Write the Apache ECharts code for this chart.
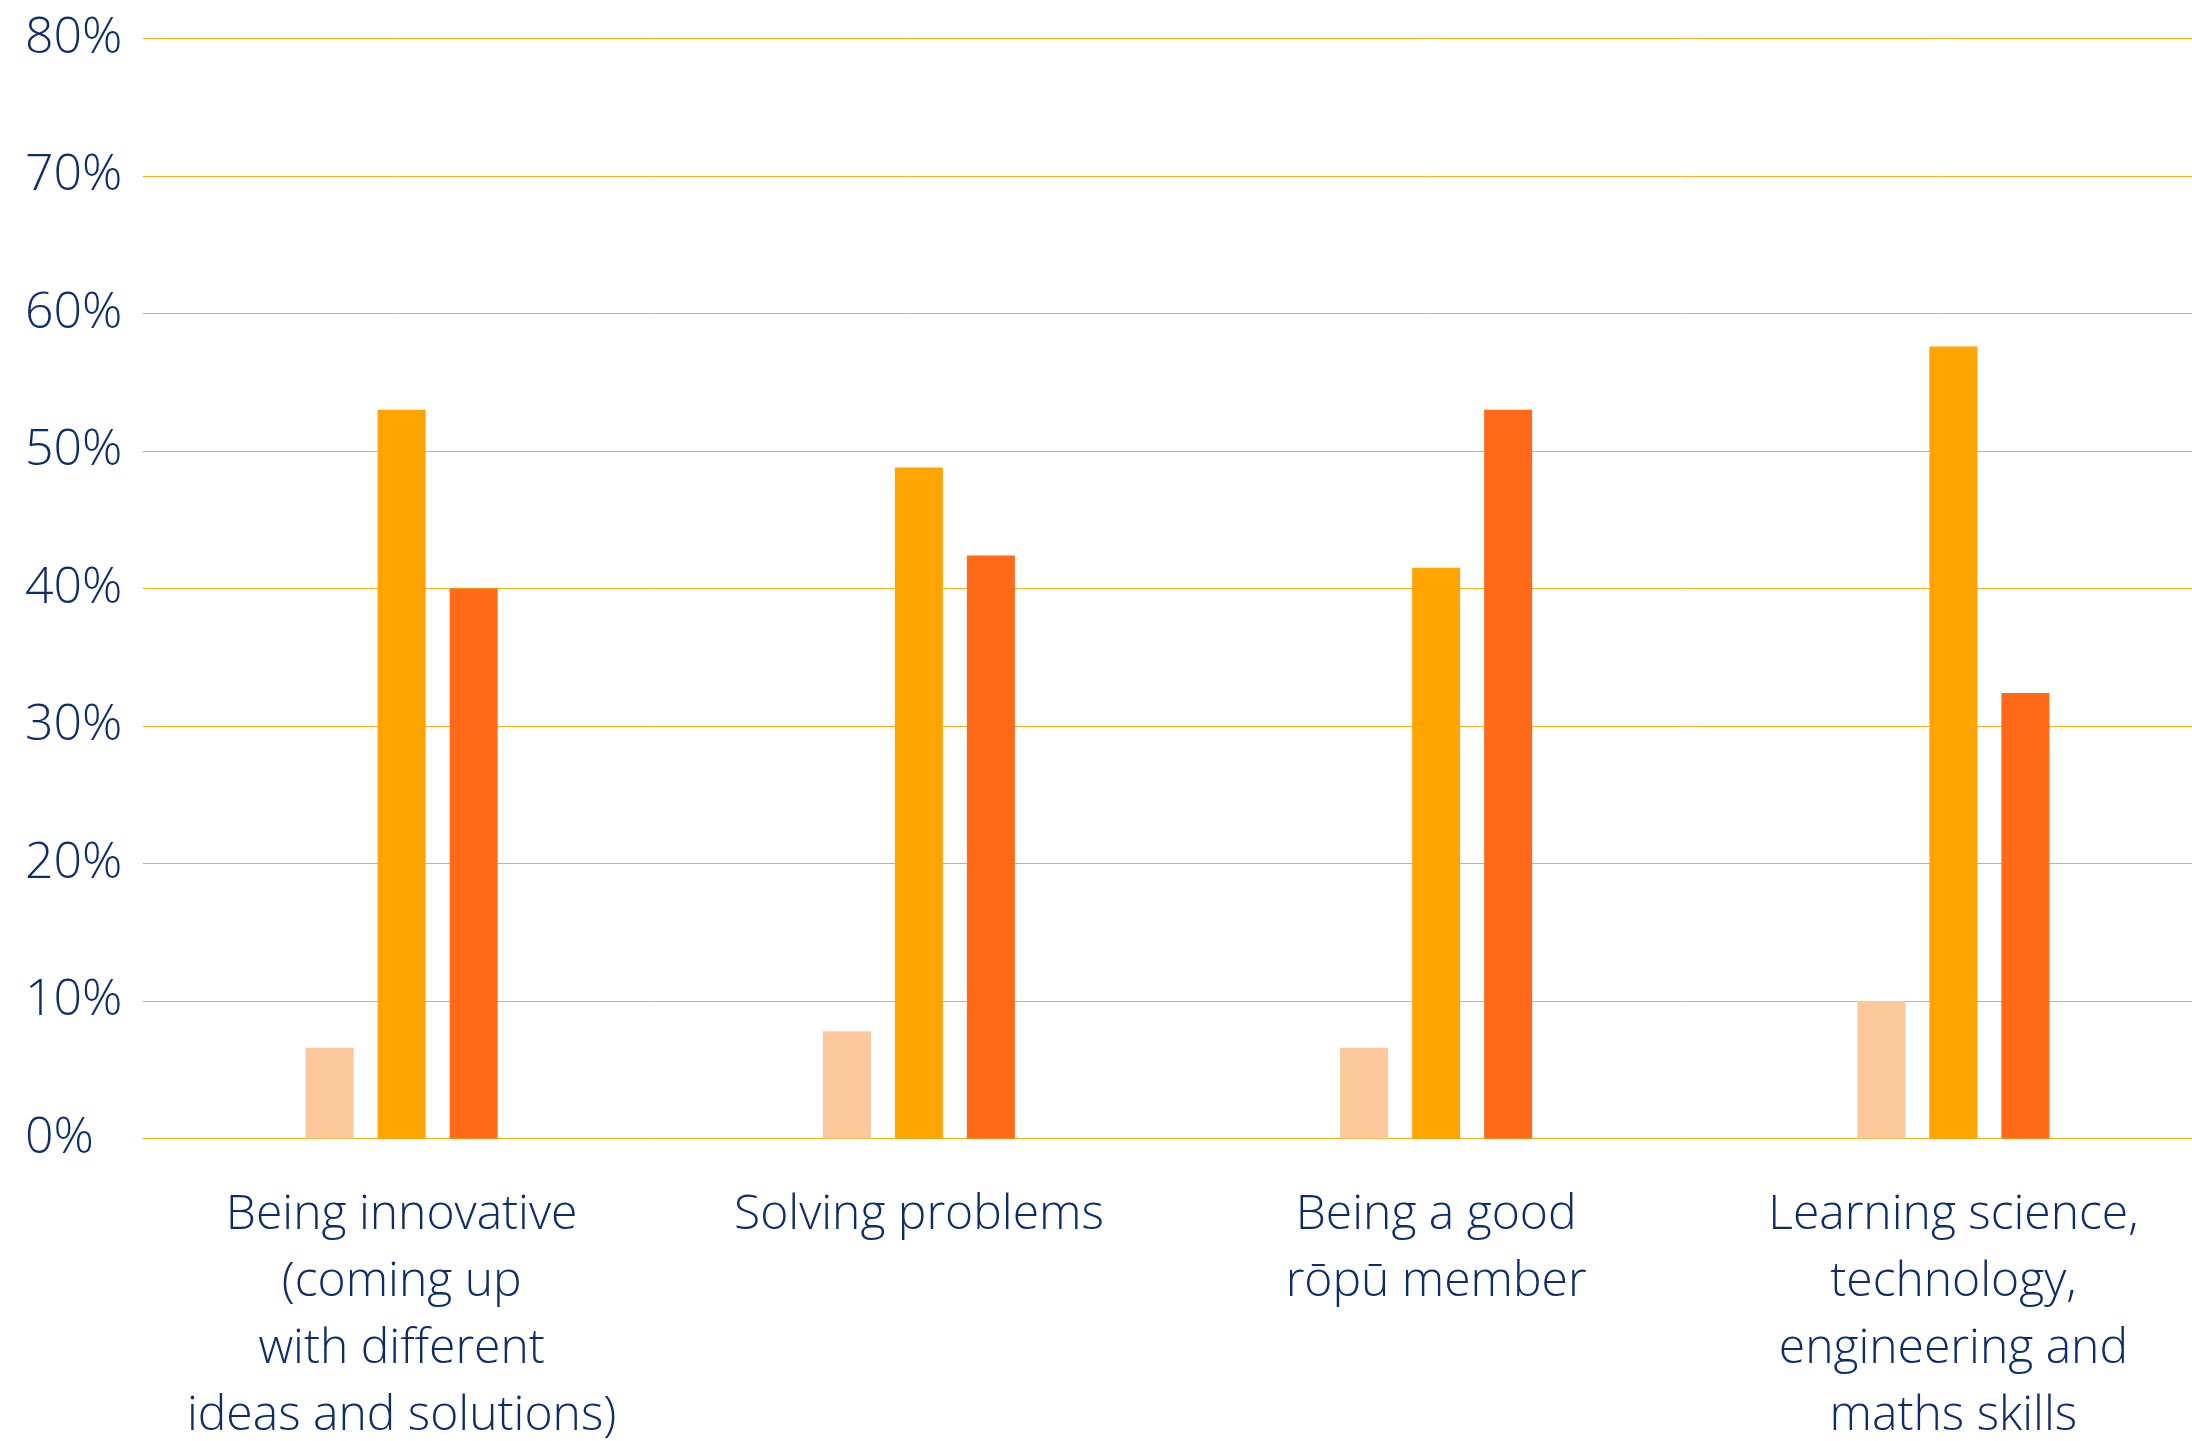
<!DOCTYPE html>
<html>
<head>
<meta charset="utf-8">
<style>
  html, body { margin: 0; padding: 0; background: #ffffff; }
  #chart { width: 2192px; height: 1441px; }
</style>
<script src="https://cdn.jsdelivr.net/npm/echarts@6/dist/echarts.min.js"></script>
</head>
<body>
<div id="chart"></div>
<script>
// Skill categories along the x axis
const categories = [
  'Being innovative\n(coming up\nwith different\nideas and solutions)',
  'Solving problems',
  'Being a good\nrōpū member',
  'Learning science,\ntechnology,\nengineering and\nmaths skills'
];

// Percentages for the three response groups
const seriesLight = [6.6, 7.8, 6.6, 10.0];
const seriesMid = [53.0, 48.8, 41.5, 57.6];
const seriesDark = [40.0, 42.4, 53.0, 32.4];

// Value axis range and step
const yMin = 0;
const yMax = 80;
const yStep = 10;

const textColor = '#0d2c6c';
const gridColor = '#ffae1a';
const fontFamily = '"Open Sans", Lato, sans-serif';

const chart = echarts.init(document.getElementById('chart'), null, { renderer: 'canvas' });

function barSeries(name, data, color) {
  return {
    name: name,
    type: 'bar',
    data: data,
    barWidth: 48,
    barGap: '50%',
    itemStyle: { color: color },
    emphasis: { disabled: true }
  };
}

chart.setOption({
  animation: false,
  backgroundColor: '#ffffff',
  // the plot runs a little past the right edge of the canvas
  grid: {
    left: 143, width: 2069, top: 38.4, height: 1100.2,
    containLabel: false,
    outerBoundsMode: 'none'
  },
  xAxis: {
    type: 'category',
    data: categories,
    axisLine: { show: true, lineStyle: { color: gridColor, width: 1 } },
    axisTick: { show: false },
    axisLabel: {
      interval: 0,
      margin: 43,
      color: textColor,
      fontFamily: fontFamily,
      fontWeight: 300,
      fontSize: 48,
      lineHeight: 67,
      align: 'center'
    }
  },
  yAxis: {
    type: 'value',
    min: yMin,
    max: yMax,
    interval: yStep,
    axisLine: { show: false },
    axisTick: { show: false },
    splitLine: { show: true, lineStyle: { color: gridColor, width: 1 } },
    axisLabel: {
      formatter: '{value}%',
      align: 'left',
      margin: 118,
      color: textColor,
      fontFamily: fontFamily,
      fontWeight: 300,
      fontSize: 50
    }
  },
  series: [
    barSeries('Low', seriesLight, '#fbc89c'),
    barSeries('Mid', seriesMid, '#ffa400'),
    barSeries('High', seriesDark, '#ff6a18')
  ]
});
</script>
</body>
</html>
